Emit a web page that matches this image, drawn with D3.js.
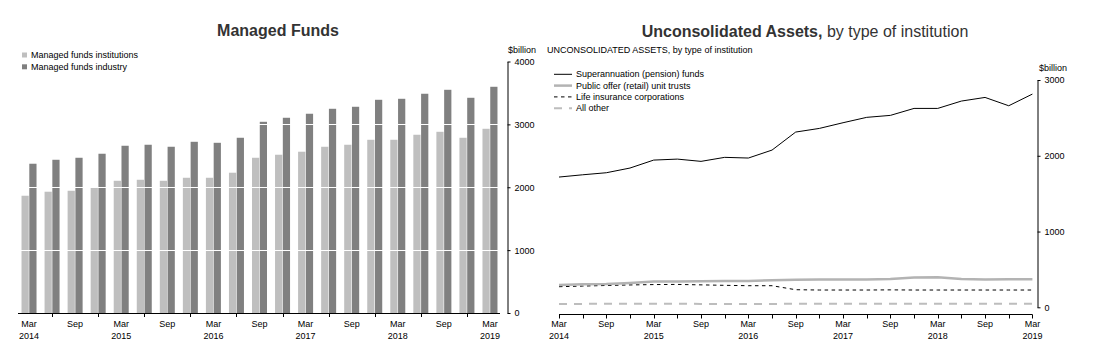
<!DOCTYPE html>
<html>
<head>
<meta charset="utf-8">
<script src="https://cdn.jsdelivr.net/npm/d3@7"></script>
<style>
  body { margin: 0; background: #fff; }
  svg { display: block; font-family: "Liberation Sans", Arial, sans-serif; }
  .small { font-size: 9px; fill: #000; }
</style>
</head>
<body>
<div id="chart"></div>
<script>
const quarters = ["Mar 2014","Jun 2014","Sep 2014","Dec 2014","Mar 2015","Jun 2015","Sep 2015","Dec 2015",
  "Mar 2016","Jun 2016","Sep 2016","Dec 2016","Mar 2017","Jun 2017","Sep 2017","Dec 2017",
  "Mar 2018","Jun 2018","Sep 2018","Dec 2018","Mar 2019"];

// Managed funds ($billion)
const institutions = [1865,1929,1944,1992,2103,2119,2103,2151,2151,2231,2469,2517,2565,2644,2676,2755,2755,2835,2882,2787,2930];
const industry = [2374,2437,2469,2533,2660,2676,2644,2723,2707,2787,3041,3105,3169,3248,3280,3391,3407,3487,3550,3423,3598];

// Unconsolidated assets ($billion)
const superannuation = [1719,1749,1776,1838,1943,1956,1926,1979,1970,2075,2313,2361,2436,2507,2533,2625,2625,2722,2770,2660,2814];
const publicOffer = [294,305,308,322,340,342,345,348,348,358,362,366,366,368,375,392,395,375,368,370,370];
const lifeInsurance = [272,280,288,295,300,302,296,290,285,285,232,228,228,228,230,228,228,228,228,228,228];
const allOther = [45,45,46,46,46,46,45,45,45,45,46,46,46,46,46,46,47,46,46,46,46];

const leftTicks = [0, 1000, 2000, 3000, 4000];
const rightTicks = [0, 1000, 2000, 3000];

const width = 1096, height = 353;
const svg = d3.select("#chart").append("svg").attr("width", width).attr("height", height);

// ---------- Managed Funds ----------
svg.append("text").attr("x", 278).attr("y", 36).attr("text-anchor", "middle")
  .style("font-size", "16px").style("font-weight", "bold").style("fill", "#333")
  .text("Managed Funds");

const barKeys = ["Managed funds institutions", "Managed funds industry"];
const barColor = d3.scaleOrdinal().domain(barKeys).range(["#bfbfbf", "#808080"]);
const barData = quarters.map((q, i) => ({ q, v: [institutions[i], industry[i]] }));

const x0 = d3.scaleBand().domain(quarters).range([17.5, 501.5]);
const x1 = d3.scaleBand().domain([0, 1]).range([0, 15]).paddingInner(0.07);
const yL = d3.scaleLinear().domain([0, 4000]).range([313, 61.5]);

const bars = svg.append("g");
barData.forEach(d => {
  const off = x0(d.q) + (x0.bandwidth() - 15) / 2;
  d.v.forEach((v, k) => {
    bars.append("rect")
      .attr("x", off + x1(k)).attr("width", x1.bandwidth())
      .attr("y", yL(v)).attr("height", yL(0) - yL(v))
      .attr("fill", barColor(barKeys[k]));
  });
});

// white gridlines over bars
svg.append("g").selectAll("line").data(leftTicks.filter(t => t > 0)).join("line")
  .attr("x1", 18).attr("x2", 500).attr("y1", d => Math.round(yL(d)) + 0.5).attr("y2", d => Math.round(yL(d)) + 0.5)
  .attr("stroke", "#fff").attr("stroke-width", 1);

// x axis
const lx = svg.append("g");
lx.append("line").attr("x1", 18).attr("x2", 500).attr("y1", 313.5).attr("y2", 313.5).attr("stroke", "#000");
quarters.forEach((q, i) => {
  const cx = x0(q) + x0.bandwidth() / 2;
  if (i % 2 === 1) {
    lx.append("line").attr("x1", Math.round(cx) + 0.5).attr("x2", Math.round(cx) + 0.5)
      .attr("y1", 313.5).attr("y2", 317).attr("stroke", "#000");
  } else {
    const [m, yr] = q.split(" ");
    lx.append("text").attr("class", "small").attr("x", cx).attr("y", 327).attr("text-anchor", "middle").text(m);
    if (m === "Mar") lx.append("text").attr("class", "small").attr("x", cx).attr("y", 338.5).attr("text-anchor", "middle").text(yr);
  }
});

// y axis (right side)
const ly = svg.append("g").attr("transform", "translate(507.5,0)")
  .call(d3.axisRight(yL).tickValues(leftTicks).tickFormat(d3.format("d")).tickSize(3).tickPadding(4).tickSizeOuter(0));
ly.select(".domain").attr("stroke", "#000");
ly.selectAll("text").attr("class", "small");
ly.attr("font-family", null).attr("font-size", null);
svg.append("text").attr("class", "small").attr("x", 508).attr("y", 53).text("$billion");

// legend
barKeys.forEach((k, i) => {
  const g = svg.append("g").attr("transform", `translate(22,${55 + i * 11.8})`);
  g.append("rect").attr("x", 0).attr("y", -2.5).attr("width", 5).attr("height", 5).attr("fill", barColor(k));
  g.append("text").attr("class", "small").attr("x", 9).attr("y", 3).text(k);
});

// ---------- Unconsolidated Assets ----------
const title2 = svg.append("text").attr("x", 805).attr("y", 37).attr("text-anchor", "middle")
  .style("font-size", "16px").style("fill", "#333");
title2.append("tspan").style("font-weight", "bold").text("Unconsolidated Assets,");
title2.append("tspan").text(" by type of institution");

svg.append("text").attr("class", "small").attr("x", 547).attr("y", 53)
  .text("UNCONSOLIDATED ASSETS, by type of institution");

const xR = d3.scalePoint().domain(quarters).range([559, 1032.4]);
const yR = d3.scaleLinear().domain([0, 3000]).range([307.3, 80]);

const series = [
  { name: "Superannuation (pension) funds", values: superannuation, color: "#000", w: 1, dash: null },
  { name: "Public offer (retail) unit trusts", values: publicOffer, color: "#b3b3b3", w: 2.5, dash: null },
  { name: "Life insurance corporations", values: lifeInsurance, color: "#000", w: 1, dash: "3.5,3.5" },
  { name: "All other", values: allOther, color: "#bdbdbd", w: 2, dash: "8,7" }
];

const line = d3.line().x((d, i) => xR(quarters[i])).y(d => yR(d));
series.slice().reverse().forEach(s => {
  svg.append("path").datum(s.values).attr("d", line)
    .attr("fill", "none").attr("stroke", s.color).attr("stroke-width", s.w)
    .attr("stroke-dasharray", s.dash);
});

// x axis
const rx = svg.append("g");
rx.append("line").attr("x1", 559).attr("x2", 1032.4).attr("y1", 314.5).attr("y2", 314.5).attr("stroke", "#000");
quarters.forEach((q, i) => {
  const cx = Math.round(xR(q)) + 0.5;
  rx.append("line").attr("x1", cx).attr("x2", cx).attr("y1", 314.5).attr("y2", 318.5).attr("stroke", "#000");
  if (i % 2 === 0) {
    const [m, yr] = q.split(" ");
    rx.append("text").attr("class", "small").attr("x", xR(q)).attr("y", 327).attr("text-anchor", "middle").text(m);
    if (m === "Mar") rx.append("text").attr("class", "small").attr("x", xR(q)).attr("y", 338.5).attr("text-anchor", "middle").text(yr);
  }
});

// y axis
const ry = svg.append("g").attr("transform", "translate(1037.5,0)")
  .call(d3.axisRight(yR).tickValues(rightTicks).tickFormat(d3.format("d")).tickSize(3).tickPadding(4).tickSizeOuter(0));
ry.selectAll("text").attr("class", "small");
ry.attr("font-family", null).attr("font-size", null);
svg.append("text").attr("class", "small").attr("x", 1039).attr("y", 71).text("$billion");

// legend
series.forEach((s, i) => {
  const g = svg.append("g").attr("transform", `translate(554,${74.3 + i * 11.3})`);
  g.append("line").attr("x1", 0).attr("x2", 18).attr("y1", 0).attr("y2", 0)
    .attr("stroke", s.color).attr("stroke-width", s.w).attr("stroke-dasharray", s.dash);
  g.append("text").attr("class", "small").attr("x", 22).attr("y", 3).text(s.name);
});
</script>
</body>
</html>
